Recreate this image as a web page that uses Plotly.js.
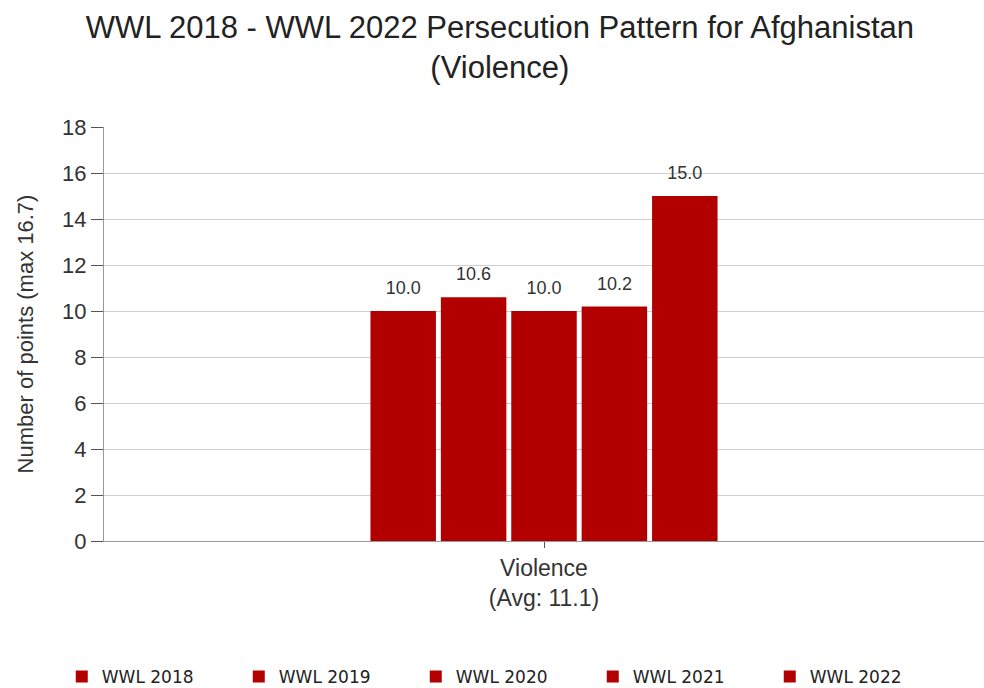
<!DOCTYPE html>
<html>
<head>
<meta charset="utf-8">
<script src="https://cdn.plot.ly/plotly-3.0.1.min.js"></script>
<style>html,body{margin:0;padding:0;background:#fff;}#chart{width:984px;height:688px;}</style>
</head>
<body>
<div id="chart"></div>
<script>
const categories = ["Violence<br>(Avg: 11.1)"];
const seriesNames = ["WWL 2018", "WWL 2019", "WWL 2020", "WWL 2021", "WWL 2022"];
const values2018 = [10.0];
const values2019 = [10.6];
const values2020 = [10.0];
const values2021 = [10.2];
const values2022 = [15.0];
const seriesValues = [values2018, values2019, values2020, values2021, values2022];

const barColor = "#b20000";
const traces = seriesNames.map((name, i) => ({
  type: "bar",
  name: name,
  x: categories,
  y: seriesValues[i],
  text: seriesValues[i].map(v => "<span style='font-size:18px'>" + v.toFixed(1) + "</span><br> "),
  textposition: "outside",
  cliponaxis: false,
  textfont: {family: "Liberation Sans, Arial, sans-serif", size: 9, color: "#333"},
  marker: {color: barColor},
  hoverinfo: "none"
}));

const layout = {
  width: 984, height: 688,
  margin: {l: 104, r: 0, t: 127, b: 147, autoexpand: false},
  paper_bgcolor: "#fff", plot_bgcolor: "#fff",
  font: {family: "Liberation Sans, Arial, sans-serif", color: "#222"},
  title: {
    text: "WWL 2018 - WWL 2022 Persecution Pattern for Afghanistan<br>(Violence)",
    x: 0.508, xanchor: "center", xref: "container", y: 0.945, yanchor: "top", yref: "container",
    font: {size: 31, color: "#222"}
  },
  barmode: "group",
  bargap: 0.6,
  bargroupgap: 0.07,
  showlegend: true,
  legend: {
    orientation: "h", x: -0.048, xanchor: "left", y: -0.372, yanchor: "bottom",
    font: {family: "DejaVu Sans, Verdana, sans-serif", size: 17, color: "#222"},
    itemwidth: 30, entrywidth: 132, traceorder: "normal"
  },
  xaxis: {
    type: "category",
    showline: true, linecolor: "#999", linewidth: 1,
    ticks: "outside", ticklen: 6, tickcolor: "#555",
    tickfont: {size: 23, color: "#333"},
    showgrid: false
  },
  yaxis: {
    range: [0, 18], dtick: 2, tick0: 0,
    showline: true, linecolor: "#999", linewidth: 1,
    ticks: "outside", ticklen: 12, tickcolor: "#555",
    tickfont: {size: 22, color: "#333"},
    gridcolor: "#cfcfcf", gridwidth: 1,
    zeroline: false,
    title: {text: "Number of points (max 16.7)", font: {size: 22, color: "#333"}, standoff: 22}
  }
};

Plotly.newPlot("chart", traces, layout, {displayModeBar: false, staticPlot: true});
</script>
</body>
</html>
